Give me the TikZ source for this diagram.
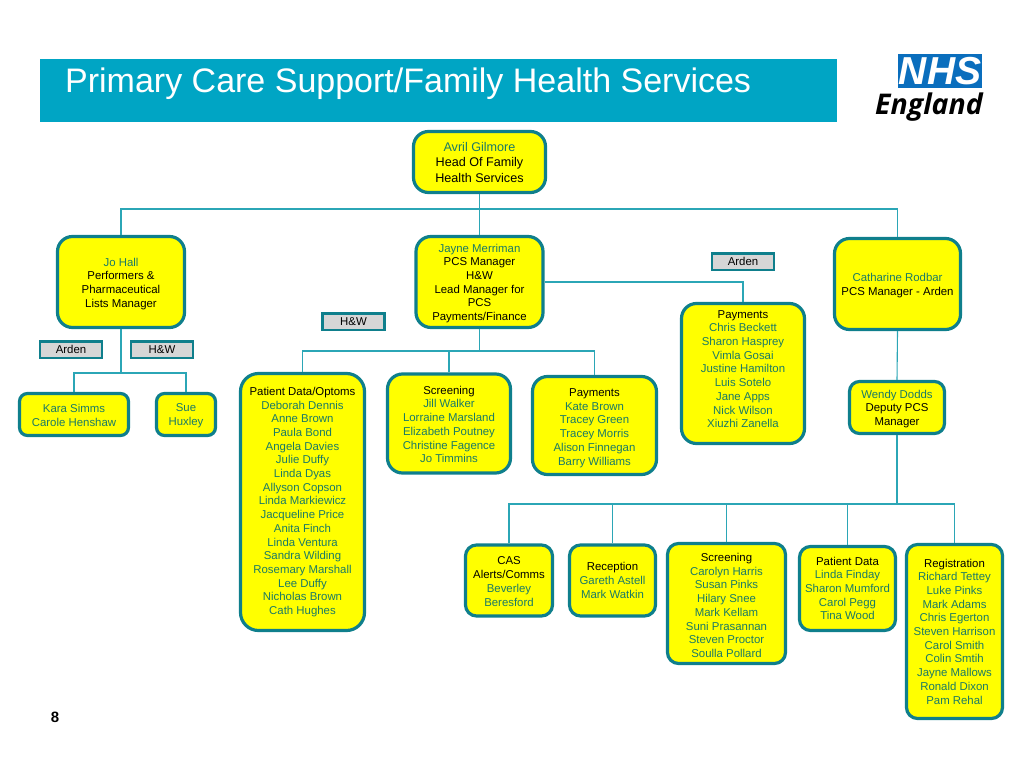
\documentclass[tikz,border=0pt]{standalone}
\usepackage{fontspec}
\setmainfont{Liberation Sans}
\newfontfamily\logofont{Open Sans}
\usetikzlibrary{positioning}
\definecolor{barblue}{HTML}{00A5C4}
\definecolor{edgeteal}{HTML}{0F7F8C}
\definecolor{linkteal}{HTML}{2BA6B6}
\definecolor{namegreen}{HTML}{1A7A66}
\definecolor{nhsblue}{HTML}{0A6EBD}
\definecolor{tagfill}{HTML}{D6D6D6}
\definecolor{boxyellow}{rgb}{1,1,0}
\newcommand{\hd}[1]{\textcolor{black}{#1}}
\newcommand{\dn}[1]{\rule{0pt}{#1pt}}
\newcommand{\lift}[1]{\rule[-#1pt]{0pt}{#1pt}}
\tikzset{orgbox/.style={draw=edgeteal,line width=3.2pt,rounded corners=15pt,fill=boxyellow,align=center,inner sep=0pt,text=namegreen,font=\fontsize{11.4}{13.7}\selectfont},sz/.style 2 args={minimum width=#1pt,minimum height=#2pt},tag/.style={draw=edgeteal,line width=2.5pt,fill=tagfill,inner sep=0pt,minimum width=62pt,minimum height=16.5pt,font=\fontsize{11.4}{13}\selectfont},link/.style={draw=linkteal,line width=1.1pt}}
\begin{document}
\begin{tikzpicture}[x=1pt,y=-1pt]
\useasboundingbox (0,0) rectangle (1024,768);
\node[fill=barblue,minimum width=797pt,minimum height=63pt,inner sep=0pt] (bar) at (438.5,90.5) {};
\node[anchor=west,text=white,font=\fontsize{34}{38}\selectfont,inner sep=0pt] (title) at (65,84) {Primary Care Support/Family Health Services};
\node[fill=nhsblue,text=white,minimum width=84pt,minimum height=34pt,inner sep=0pt,font=\fontsize{39}{37}\selectfont\bfseries\itshape] (nhs) at (940,71) {NHS};
\node[text=black,inner sep=0pt,font=\logofont\fontsize{28.5}{30}\selectfont\bfseries\itshape] (england) at (929,107) {England};
\node[orgbox,sz={132}{61},font=\fontsize{12.6}{15.5}\selectfont] (avril) at (479.5,162) {Avril Gilmore\\\hd{Head Of Family}\\\hd{Health Services}};
\node[orgbox,sz={127}{91}] (jo) at (121,282) {\dn{12}Jo Hall\\\hd{Performers \&}\\\hd{Pharmaceutical}\\\hd{Lists Manager}};
\node[orgbox,sz={127}{91}] (jayne) at (479.5,282) {\dn{11}Jayne Merriman\\\hd{PCS Manager}\\\hd{H\&W}\\\hd{Lead Manager for}\\\hd{PCS}\\\hd{Payments/Finance}};
\node[orgbox,sz={126}{91}] (catharine) at (897.5,284) {\dn{11}Catharine Rodbar\\\hd{PCS Manager - Arden}};
\node[orgbox,sz={123}{140}] (chris) at (743,373.5) {\hd{Payments}\\Chris Beckett\\Sharon Hasprey\\Vimla Gosai\\Justine Hamilton\\Luis Sotelo\\Jane Apps\\Nick Wilson\\Xiuzhi Zanella\lift{9}};
\node[tag] (ardenb) at (743,261.5) {Arden};
\node[tag] (hwb) at (353.5,321.5) {H\&W};
\node[tag] (ardena) at (71,349.5) {Arden};
\node[tag] (hwa) at (162,349.5) {H\&W};
\node[orgbox,rounded corners=8pt,sz={109}{42}] (kara) at (74,414.5) {\dn{10}Kara Simms\\Carole Henshaw};
\node[orgbox,rounded corners=8pt,sz={59}{42}] (sue) at (186,414.5) {\dn{10}Sue\\Huxley};
\node[orgbox,rounded corners=18pt,sz={124}{257}] (patient) at (302.5,502) {\hd{Patient Data/Optoms}\\Deborah Dennis\\Anne Brown\\Paula Bond\\Angela Davies\\Julie Duffy\\Linda Dyas\\Allyson Copson\\Linda Markiewicz\\Jacqueline Price\\Anita Finch\\Linda Ventura\\Sandra Wilding\\Rosemary Marshall\\Lee Duffy\\Nicholas Brown\\Cath Hughes};
\node[orgbox,sz={123}{99}] (screena) at (449,423.5) {\dn{10}\hd{Screening}\\Jill Walker\\Lorraine Marsland\\Elizabeth Poutney\\Christine Fagence\\Jo Timmins};
\node[orgbox,sz={124}{98}] (kate) at (594.5,425.5) {\dn{13}\hd{Payments}\\Kate Brown\\Tracey Green\\Tracey Morris\\Alison Finnegan\\Barry Williams};
\node[orgbox,rounded corners=10pt,sz={95}{52}] (wendy) at (897,407.5) {\dn{11}Wendy Dodds\\\hd{Deputy PCS}\\\hd{Manager}};
\node[orgbox,rounded corners=11pt,sz={87}{71}] (cas) at (509,580.5) {\dn{10}\hd{CAS}\\\hd{Alerts/Comms}\\Beverley\\Beresford};
\node[orgbox,rounded corners=11pt,sz={86}{71}] (reception) at (612.5,580.5) {\hd{Reception}\\Gareth Astell\\Mark Watkin};
\node[orgbox,rounded corners=11pt,sz={118}{120}] (screenb) at (726.5,603.5) {\dn{12}\hd{Screening}\\Carolyn Harris\\Susan Pinks\\Hilary Snee\\Mark Kellam\\Suni Prasannan\\Steven Proctor\\Soulla Pollard};
\node[orgbox,rounded corners=11pt,sz={96}{84}] (pdata) at (847.5,588.5) {\hd{Patient Data}\\Linda Finday\\Sharon Mumford\\Carol Pegg\\Tina Wood};
\node[orgbox,rounded corners=11pt,sz={96}{174}] (regist) at (954.5,631.5) {\hd{Registration}\\Richard Tettey\\Luke Pinks\\Mark Adams\\Chris Egerton\\Steven Harrison\\Carol Smith\\Colin Smtih\\Jayne Mallows\\Ronald Dixon\\Pam Rehal};
\node[inner sep=0pt,font=\fontsize{15}{18}\selectfont\bfseries] (pageno) at (55,717) {8};
\coordinate (topbus) at (479.5,209);
\coordinate (jobus) at (121,373);
\coordinate (jaynebus) at (479.5,351);
\coordinate (wendybus) at (897,504);
\draw[link] (avril.south)--(jayne.north);
\draw[link] (jo.north)|-(topbus)-|(catharine.north);
\draw[link] (jo.south)--(jobus);
\draw[link] (kara.north)|-(jobus)-|(sue.north);
\draw[link] (jayne.south)--(jaynebus);
\draw[link] (patient.north)|-(jaynebus)-|(kate.north);
\draw[link] (screena.north)--(screena.north|-jaynebus);
\draw[link] (jayne.east|-0,282)-|(chris.north);
\draw[link] (catharine.south)--(wendy.north);
\draw[link] (wendy.south)--(wendybus);
\draw[link] (cas.north)|-(wendybus)-|(regist.north);
\draw[link] (reception.north)--(reception.north|-wendybus);
\draw[link] (screenb.north)--(screenb.north|-wendybus);
\draw[link] (pdata.north)--(pdata.north|-wendybus);
\end{tikzpicture}
\end{document}
